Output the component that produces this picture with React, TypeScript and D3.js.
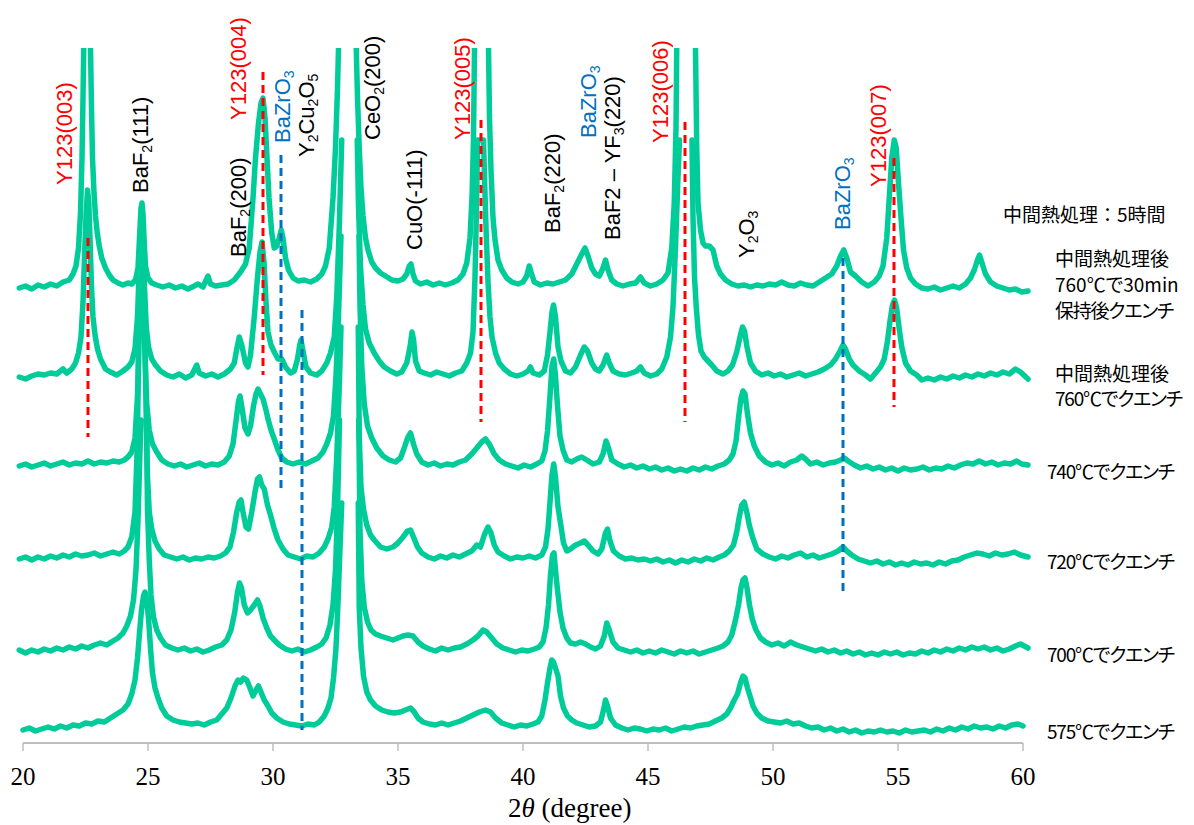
import React from 'react';
import * as d3 from 'd3';

type Pt = [number, number | null];

// XRD patterns, 2θ (deg) vs. intensity (a.u., stacked). null = above the recorded range.
const sampleLabels: string[][] = [
  ['中間熱処理後', '760℃で30min', '保持後クエンチ'],
  ['中間熱処理後', '760℃でクエンチ'],
  ['740℃でクエンチ'],
  ['720℃でクエンチ'],
  ['700℃でクエンチ'],
  ['575℃でクエンチ'],
];
const stackOffsets = [455, 366, 277, 186, 93, 15];

const hold760: Pt[] = [[19.85,0],[20.1,2],[20.35,-1],[20.6,3],[20.85,1],[21.1,4],[21.35,2],[21.6,6],[21.85,8],[22.0,14],[22.12,22],[22.22,40],[22.3,75],[22.36,130],[22.4,190],[22.43,240],[22.44,null],[22.68,null],[22.7,240],[22.74,180],[22.78,130],[22.84,95],[22.9,72],[22.97,55],[23.05,42],[23.15,30],[23.3,20],[23.45,13],[23.6,8],[23.8,5],[24.0,3],[24.2,5],[24.35,4],[24.5,8],[24.6,20],[24.67,55],[24.72,80],[24.76,85],[24.8,74],[24.85,45],[24.9,22],[25.0,10],[25.15,5],[25.35,3],[25.6,1],[25.85,3],[26.1,0],[26.35,2],[26.6,-1],[26.85,2],[27.0,4],[27.2,1],[27.4,12],[27.5,4],[27.7,2],[27.95,3],[28.2,4],[28.45,8],[28.7,16],[28.9,24],[29.05,40],[29.2,90],[29.3,130],[29.42,165],[29.52,185],[29.6,190],[29.68,170],[29.76,130],[29.84,90],[29.95,55],[30.05,40],[30.15,42],[30.25,50],[30.33,58],[30.4,50],[30.5,30],[30.62,18],[30.8,10],[31.0,7],[31.25,8],[31.5,6],[31.75,9],[31.95,14],[32.1,22],[32.25,40],[32.4,90],[32.5,140],[32.58,200],[32.62,240],[32.63,null],[33.32,null],[33.33,240],[33.38,190],[33.45,140],[33.52,100],[33.6,72],[33.7,50],[33.8,38],[33.95,26],[34.1,20],[34.3,15],[34.5,12],[34.75,8],[35.0,7],[35.2,9],[35.35,14],[35.45,22],[35.52,24],[35.6,14],[35.7,7],[35.9,4],[36.15,6],[36.4,3],[36.65,5],[36.9,3],[37.15,5],[37.4,8],[37.6,14],[37.75,25],[37.88,50],[37.96,90],[38.02,150],[38.06,240],[38.07,null],[38.6,null],[38.62,240],[38.66,170],[38.72,118],[38.8,70],[38.88,48],[39.0,28],[39.15,18],[39.35,10],[39.55,6],[39.8,4],[40.0,6],[40.15,12],[40.25,22],[40.32,16],[40.45,6],[40.7,3],[40.95,5],[41.2,4],[41.45,6],[41.7,8],[41.95,14],[42.15,24],[42.35,34],[42.48,40],[42.6,32],[42.75,20],[42.9,14],[43.05,12],[43.2,20],[43.3,28],[43.4,18],[43.55,8],[43.75,4],[44.0,2],[44.25,4],[44.5,5],[44.7,11],[44.85,5],[45.1,2],[45.35,4],[45.6,8],[45.8,15],[45.95,40],[46.05,85],[46.12,160],[46.15,240],[46.16,null],[46.88,null],[46.9,240],[46.95,140],[47.0,85],[47.1,58],[47.2,45],[47.3,42],[47.45,42],[47.6,38],[47.75,22],[47.9,14],[48.1,8],[48.35,4],[48.6,2],[48.85,3],[49.1,1],[49.35,3],[49.6,2],[49.85,4],[50.1,3],[50.35,6],[50.6,3],[50.85,2],[51.1,5],[51.35,3],[51.6,2],[51.85,6],[52.1,10],[52.35,14],[52.55,22],[52.7,32],[52.83,38],[52.95,30],[53.1,16],[53.3,12],[53.55,6],[53.8,2],[54.05,6],[54.25,12],[54.4,22],[54.55,50],[54.65,90],[54.75,130],[54.85,148],[54.93,140],[55.02,105],[55.12,70],[55.22,38],[55.35,20],[55.5,10],[55.7,4],[55.95,0],[56.2,-1],[56.45,1],[56.7,-2],[56.95,0],[57.2,2],[57.45,0],[57.7,4],[57.9,10],[58.05,18],[58.18,28],[58.26,33],[58.35,26],[58.5,14],[58.7,6],[58.95,2],[59.2,0],[59.45,-2],[59.7,-1],[59.95,-4],[60.2,-3]];

const quench760: Pt[] = [[19.85,0],[20.1,-2],[20.35,1],[20.6,3],[20.85,2],[21.1,4],[21.35,3],[21.6,8],[21.75,4],[21.95,8],[22.1,14],[22.22,24],[22.32,40],[22.4,75],[22.46,120],[22.52,160],[22.58,187],[22.63,175],[22.68,140],[22.74,90],[22.8,60],[22.88,42],[22.98,28],[23.1,18],[23.3,8],[23.5,5],[23.75,2],[24.0,6],[24.2,10],[24.35,15],[24.48,28],[24.58,60],[24.65,110],[24.72,155],[24.76,160],[24.8,140],[24.86,90],[24.93,50],[25.02,30],[25.15,18],[25.3,12],[25.5,6],[25.75,2],[26.0,0],[26.25,3],[26.5,-1],[26.75,2],[26.95,12],[27.05,4],[27.3,1],[27.55,3],[27.8,0],[28.05,3],[28.3,8],[28.45,14],[28.55,28],[28.65,40],[28.75,32],[28.9,14],[29.0,10],[29.1,22],[29.25,60],[29.38,100],[29.48,125],[29.56,135],[29.64,115],[29.72,75],[29.8,45],[29.92,32],[30.05,25],[30.2,18],[30.35,18],[30.5,10],[30.7,4],[30.85,6],[30.98,18],[31.07,32],[31.12,37],[31.2,26],[31.32,10],[31.5,4],[31.75,2],[31.95,6],[32.15,14],[32.3,24],[32.45,40],[32.55,80],[32.65,150],[32.75,237],[32.76,null],[33.36,null],[33.37,237],[33.42,170],[33.5,110],[33.6,72],[33.7,48],[33.85,34],[34.05,24],[34.25,16],[34.45,10],[34.7,6],[34.95,3],[35.15,5],[35.35,14],[35.48,30],[35.56,45],[35.62,38],[35.7,16],[35.85,6],[36.05,4],[36.3,2],[36.55,5],[36.8,3],[37.05,1],[37.3,4],[37.55,6],[37.75,14],[37.9,24],[38.0,45],[38.08,100],[38.14,170],[38.18,237],[38.42,237],[38.46,200],[38.52,150],[38.6,95],[38.68,60],[38.76,40],[38.9,24],[39.05,14],[39.25,8],[39.5,3],[39.75,1],[40.0,3],[40.2,6],[40.3,10],[40.4,4],[40.65,2],[40.85,6],[40.98,22],[41.08,45],[41.16,65],[41.22,72],[41.3,60],[41.4,30],[41.52,16],[41.7,6],[41.9,4],[42.1,10],[42.3,22],[42.45,30],[42.58,26],[42.75,14],[42.9,8],[43.05,6],[43.2,12],[43.35,22],[43.45,14],[43.6,6],[43.85,3],[44.1,2],[44.35,4],[44.55,6],[44.7,10],[44.85,4],[45.1,1],[45.35,3],[45.55,8],[45.75,20],[45.9,40],[46.0,70],[46.1,130],[46.2,200],[46.26,237],[46.27,null],[46.75,null],[46.76,237],[46.8,160],[46.86,100],[46.93,70],[47.02,42],[47.12,26],[47.25,20],[47.4,16],[47.55,12],[47.75,6],[48.0,3],[48.2,6],[48.38,12],[48.55,25],[48.68,40],[48.78,50],[48.86,46],[48.96,30],[49.1,14],[49.3,6],[49.55,2],[49.8,4],[50.05,1],[50.3,3],[50.55,0],[50.8,2],[51.05,4],[51.3,1],[51.55,3],[51.8,5],[52.05,8],[52.3,12],[52.5,18],[52.68,26],[52.8,32],[52.9,28],[53.05,18],[53.2,12],[53.45,6],[53.7,2],[53.9,-2],[54.1,4],[54.3,10],[54.45,18],[54.58,36],[54.68,56],[54.78,72],[54.86,77],[54.94,70],[55.05,48],[55.15,30],[55.3,14],[55.5,6],[55.75,2],[55.95,-3],[56.2,-1],[56.45,-3],[56.7,0],[56.95,-2],[57.2,1],[57.45,-1],[57.7,2],[57.95,0],[58.2,3],[58.45,1],[58.7,4],[58.95,2],[59.2,5],[59.45,3],[59.7,8],[59.9,5],[60.2,-2]];

const quench740: Pt[] = [[19.85,0],[20.1,2],[20.35,-1],[20.6,1],[20.85,3],[21.1,0],[21.35,2],[21.6,4],[21.85,1],[22.1,3],[22.35,2],[22.6,5],[22.85,2],[23.1,4],[23.35,3],[23.6,5],[23.85,4],[24.05,6],[24.2,9],[24.35,14],[24.48,28],[24.58,70],[24.65,140],[24.72,200],[24.77,205],[24.82,170],[24.88,110],[24.95,62],[25.05,36],[25.18,22],[25.35,14],[25.55,6],[25.8,2],[26.05,0],[26.3,2],[26.55,-1],[26.8,1],[27.05,3],[27.3,0],[27.55,2],[27.8,1],[28.05,4],[28.25,10],[28.4,22],[28.52,45],[28.62,65],[28.68,70],[28.76,58],[28.88,38],[29.0,32],[29.1,40],[29.22,60],[29.32,72],[29.4,77],[29.5,72],[29.6,67],[29.7,58],[29.8,47],[29.92,36],[30.05,27],[30.2,16],[30.35,8],[30.55,4],[30.8,2],[31.05,4],[31.3,2],[31.55,5],[31.8,8],[32.0,14],[32.15,22],[32.3,33],[32.42,50],[32.52,90],[32.62,150],[32.72,230],[32.73,null],[33.43,null],[33.44,230],[33.48,160],[33.55,100],[33.65,62],[33.78,40],[33.95,28],[34.15,18],[34.4,10],[34.65,6],[34.9,4],[35.1,8],[35.25,18],[35.38,28],[35.5,33],[35.62,22],[35.75,12],[35.95,4],[36.2,1],[36.45,3],[36.7,0],[36.95,2],[37.2,1],[37.45,4],[37.7,6],[37.95,12],[38.15,18],[38.35,24],[38.5,27],[38.65,22],[38.85,12],[39.05,6],[39.3,2],[39.55,0],[39.8,-2],[40.05,1],[40.3,-1],[40.55,2],[40.75,5],[40.88,15],[40.98,35],[41.08,70],[41.16,100],[41.23,107],[41.3,90],[41.38,60],[41.48,30],[41.6,16],[41.75,6],[41.95,4],[42.15,7],[42.35,9],[42.55,6],[42.8,2],[43.05,4],[43.2,12],[43.32,25],[43.42,18],[43.55,6],[43.8,2],[44.05,-1],[44.3,1],[44.55,-2],[44.8,0],[45.05,-3],[45.3,-1],[45.55,-4],[45.8,-2],[46.05,-5],[46.3,-3],[46.55,-5],[46.8,-2],[47.05,-4],[47.3,-1],[47.55,-3],[47.8,0],[48.05,2],[48.25,6],[48.4,12],[48.52,25],[48.62,48],[48.72,68],[48.8,75],[48.88,72],[48.98,52],[49.1,33],[49.25,20],[49.45,10],[49.7,4],[49.95,1],[50.2,3],[50.45,0],[50.7,4],[50.95,6],[51.15,10],[51.3,7],[51.5,2],[51.75,4],[52.0,1],[52.25,3],[52.5,4],[52.7,6],[52.85,8],[53.0,5],[53.25,1],[53.5,-2],[53.75,0],[54.0,-3],[54.25,-1],[54.5,-4],[54.75,-2],[55.0,-5],[55.25,-2],[55.5,-4],[55.75,-3],[56.0,-1],[56.25,-4],[56.5,-2],[56.75,-3],[57.0,0],[57.25,-2],[57.5,1],[57.75,3],[58.0,2],[58.25,5],[58.5,2],[58.75,4],[59.0,1],[59.25,3],[59.5,2],[59.75,5],[59.95,2],[60.2,1]];

const quench720: Pt[] = [[19.85,-2],[20.1,0],[20.35,-3],[20.6,0],[20.85,-2],[21.1,1],[21.35,-1],[21.6,2],[21.85,0],[22.1,3],[22.35,1],[22.6,2],[22.85,4],[23.1,1],[23.35,3],[23.6,5],[23.85,3],[24.05,6],[24.2,10],[24.35,20],[24.48,45],[24.57,110],[24.64,230],[24.65,null],[24.86,null],[24.87,230],[24.92,150],[24.98,80],[25.05,45],[25.15,28],[25.28,16],[25.45,8],[25.65,2],[25.9,0],[26.15,-2],[26.4,0],[26.65,-3],[26.9,-1],[27.15,-2],[27.4,0],[27.65,-1],[27.9,1],[28.1,4],[28.28,10],[28.42,25],[28.55,45],[28.65,55],[28.72,57],[28.8,45],[28.92,30],[29.02,28],[29.15,45],[29.28,65],[29.38,78],[29.46,80],[29.55,72],[29.65,68],[29.78,52],[29.9,42],[30.05,28],[30.2,17],[30.4,8],[30.6,2],[30.85,0],[31.1,-2],[31.35,1],[31.6,0],[31.85,4],[32.05,10],[32.2,18],[32.35,30],[32.45,50],[32.55,100],[32.65,170],[32.72,230],[32.73,null],[33.4,null],[33.41,230],[33.45,120],[33.52,70],[33.62,48],[33.75,32],[33.9,22],[34.05,17],[34.3,10],[34.55,8],[34.8,10],[35.0,14],[35.2,20],[35.38,26],[35.5,27],[35.62,20],[35.78,10],[35.95,4],[36.2,0],[36.45,-2],[36.7,1],[36.95,-1],[37.2,2],[37.45,0],[37.7,3],[37.95,6],[38.15,12],[38.3,10],[38.45,22],[38.6,30],[38.72,24],[38.85,12],[39.0,5],[39.25,1],[39.5,-2],[39.75,0],[40.0,-1],[40.25,1],[40.5,-1],[40.75,2],[40.9,10],[41.0,28],[41.08,55],[41.16,82],[41.23,93],[41.3,80],[41.4,50],[41.5,34],[41.62,14],[41.75,6],[41.9,8],[42.1,12],[42.3,14],[42.45,16],[42.6,12],[42.8,6],[43.0,3],[43.15,8],[43.3,24],[43.38,28],[43.48,16],[43.62,6],[43.85,1],[44.1,-2],[44.35,-1],[44.6,-3],[44.85,-2],[45.1,-4],[45.35,-2],[45.6,-5],[45.85,-3],[46.1,-6],[46.35,-3],[46.6,-5],[46.85,-2],[47.1,-4],[47.35,-1],[47.6,-3],[47.85,0],[48.05,2],[48.25,6],[48.42,12],[48.55,25],[48.65,40],[48.75,52],[48.85,55],[48.95,45],[49.05,32],[49.18,20],[49.35,8],[49.6,3],[49.85,0],[50.1,-2],[50.35,1],[50.6,-1],[50.85,2],[51.1,4],[51.35,0],[51.6,2],[51.85,-1],[52.1,1],[52.35,3],[52.6,6],[52.8,10],[52.95,6],[53.15,2],[53.4,-2],[53.65,-4],[53.9,-6],[54.15,-4],[54.4,-7],[54.65,-5],[54.9,-8],[55.15,-6],[55.4,-8],[55.65,-5],[55.9,-7],[56.15,-6],[56.4,-8],[56.65,-5],[56.9,-7],[57.15,-4],[57.4,-3],[57.65,0],[57.9,2],[58.15,4],[58.4,3],[58.65,1],[58.9,4],[59.15,2],[59.4,3],[59.65,5],[59.9,2],[60.2,0]];

const quench700: Pt[] = [[19.85,0],[20.1,-3],[20.35,0],[20.6,-2],[20.85,1],[21.1,-1],[21.35,2],[21.6,0],[21.85,3],[22.1,1],[22.35,4],[22.6,2],[22.85,5],[23.1,7],[23.35,5],[23.6,9],[23.8,12],[24.0,17],[24.15,24],[24.3,34],[24.42,50],[24.52,80],[24.6,130],[24.68,200],[24.72,230],[24.73,null],[24.93,null],[24.94,230],[24.98,140],[25.05,90],[25.12,55],[25.22,33],[25.35,20],[25.5,12],[25.7,5],[25.95,2],[26.2,0],[26.45,2],[26.7,-1],[26.95,1],[27.2,-2],[27.45,0],[27.7,3],[27.95,5],[28.15,10],[28.32,20],[28.47,38],[28.58,58],[28.66,67],[28.74,62],[28.85,45],[28.98,37],[29.1,40],[29.25,45],[29.38,50],[29.48,44],[29.6,32],[29.75,22],[29.9,14],[30.05,10],[30.25,5],[30.5,1],[30.75,-1],[31.0,1],[31.25,-2],[31.5,0],[31.75,3],[31.95,6],[32.12,12],[32.28,25],[32.4,45],[32.5,80],[32.58,140],[32.66,230],[32.67,null],[33.42,null],[33.43,230],[33.48,120],[33.55,70],[33.65,43],[33.78,28],[33.92,20],[34.1,16],[34.3,14],[34.55,12],[34.8,10],[35.0,12],[35.2,14],[35.4,15],[35.6,14],[35.8,8],[36.0,4],[36.25,1],[36.5,-1],[36.75,2],[37.0,0],[37.25,2],[37.5,3],[37.75,6],[38.0,10],[38.2,14],[38.4,20],[38.55,18],[38.75,12],[38.95,6],[39.2,2],[39.45,0],[39.7,-2],[39.95,0],[40.2,-1],[40.45,1],[40.65,3],[40.8,8],[40.92,22],[41.02,45],[41.1,75],[41.18,95],[41.24,97],[41.3,80],[41.38,60],[41.48,38],[41.6,22],[41.75,12],[41.9,7],[42.1,6],[42.3,8],[42.5,6],[42.7,3],[42.9,1],[43.1,4],[43.25,14],[43.35,27],[43.45,20],[43.6,8],[43.8,2],[44.05,0],[44.3,-2],[44.55,0],[44.8,-3],[45.05,-1],[45.3,-3],[45.55,0],[45.8,-2],[46.05,-4],[46.3,-1],[46.55,-3],[46.8,-1],[47.05,-4],[47.3,-2],[47.55,0],[47.8,2],[48.0,4],[48.2,8],[48.35,15],[48.5,30],[48.62,45],[48.72,62],[48.8,70],[48.88,72],[48.96,62],[49.06,45],[49.18,30],[49.32,20],[49.5,12],[49.7,8],[49.95,5],[50.2,7],[50.45,4],[50.7,8],[50.95,5],[51.2,3],[51.45,1],[51.7,-1],[51.95,1],[52.2,-2],[52.45,0],[52.7,-3],[52.95,-1],[53.2,-4],[53.45,-2],[53.7,-5],[53.95,-3],[54.2,-5],[54.45,-2],[54.7,-4],[54.95,-2],[55.2,-5],[55.45,-3],[55.7,-4],[55.95,-1],[56.2,-3],[56.45,0],[56.7,-2],[56.95,1],[57.2,-1],[57.45,2],[57.7,0],[57.95,3],[58.2,1],[58.45,3],[58.7,0],[58.95,2],[59.2,-1],[59.45,1],[59.7,4],[59.9,6],[60.2,2]];

const quench575: Pt[] = [[20.0,-2],[20.25,0],[20.5,-3],[20.75,-1],[21.0,1],[21.25,-1],[21.5,2],[21.75,0],[22.0,3],[22.25,2],[22.5,5],[22.75,4],[23.0,7],[23.25,6],[23.5,10],[23.75,14],[24.0,18],[24.2,24],[24.35,34],[24.48,48],[24.58,70],[24.66,95],[24.74,118],[24.82,132],[24.88,136],[24.94,130],[25.02,110],[25.1,80],[25.18,55],[25.28,40],[25.4,30],[25.55,20],[25.75,12],[26.0,8],[26.25,6],[26.5,5],[26.75,4],[27.0,5],[27.25,3],[27.5,6],[27.75,8],[27.95,14],[28.15,20],[28.32,30],[28.48,42],[28.6,48],[28.7,46],[28.82,50],[28.95,48],[29.08,40],[29.2,32],[29.32,38],[29.42,42],[29.52,36],[29.65,28],[29.8,22],[29.95,15],[30.15,10],[30.4,6],[30.65,4],[30.9,3],[31.15,2],[31.4,4],[31.65,3],[31.85,6],[32.05,12],[32.2,20],[32.32,30],[32.42,50],[32.52,80],[32.6,125],[32.68,180],[32.75,225],[32.76,null],[33.4,null],[33.41,225],[33.45,120],[33.52,80],[33.62,52],[33.75,36],[33.9,28],[34.1,22],[34.35,18],[34.6,16],[34.85,15],[35.1,16],[35.3,18],[35.5,20],[35.65,16],[35.8,10],[36.0,6],[36.25,4],[36.5,3],[36.75,5],[37.0,3],[37.25,5],[37.5,7],[37.75,10],[38.0,13],[38.25,16],[38.5,18],[38.7,16],[38.9,10],[39.15,5],[39.4,3],[39.65,1],[39.9,3],[40.15,2],[40.4,4],[40.6,6],[40.75,12],[40.88,28],[40.98,45],[41.08,60],[41.15,68],[41.22,66],[41.3,60],[41.4,52],[41.5,32],[41.62,20],[41.78,12],[41.95,8],[42.15,5],[42.4,3],[42.65,1],[42.9,2],[43.1,6],[43.22,18],[43.3,28],[43.38,22],[43.5,10],[43.7,3],[43.95,0],[44.2,-2],[44.45,0],[44.7,-1],[44.95,-3],[45.2,-1],[45.45,-2],[45.7,0],[45.95,-3],[46.2,-1],[46.45,1],[46.7,0],[46.95,2],[47.2,3],[47.45,4],[47.7,7],[47.95,10],[48.15,14],[48.3,20],[48.45,28],[48.58,34],[48.7,45],[48.8,52],[48.88,50],[48.98,40],[49.08,32],[49.2,22],[49.35,15],[49.55,10],[49.8,7],[50.05,6],[50.3,5],[50.55,7],[50.8,4],[51.05,5],[51.3,2],[51.55,0],[51.8,1],[52.05,-2],[52.3,0],[52.55,-3],[52.8,-1],[53.05,-4],[53.3,-2],[53.55,-5],[53.8,-3],[54.05,-4],[54.3,-2],[54.55,-4],[54.8,-3],[55.05,-5],[55.3,-2],[55.55,-4],[55.8,-3],[56.05,-2],[56.3,-4],[56.55,-1],[56.8,-3],[57.05,0],[57.3,-2],[57.55,1],[57.8,-1],[58.05,2],[58.3,0],[58.55,1],[58.8,-1],[59.05,2],[59.3,0],[59.55,3],[59.8,4],[60.0,2]];

const patterns: Pt[][] = [hold760, quench760, quench740, quench720, quench700, quench575];

const xTickValues = [20, 25, 30, 35, 40, 45, 50, 55, 60];

// Reference peak positions (2θ) with the intensity span of each dashed marker
const markerPos = [22.6, 29.6, 30.32, 31.16, 38.32, 46.48, 52.8, 54.84];
const markerTop = [505, 671, 588, 433, 623, 621, 485, 585];
const markerBottom = [306, 368, 255, 13, 321, 321, 148, 336];
const markerPhase = ['Y123', 'Y123', 'BaZrO3', 'Y2Cu2O5', 'Y123', 'Y123', 'BaZrO3', 'Y123'];

const RED = '#ff0000';
const BLUE = '#0070c0';
const INK = '#000000';
const TRACE = '#00cc99';

// Phase labels ("_x" marks a subscript character)
const peakLabels: { text: string; at: number; bottom: number; color: string }[] = [
  { text: 'Y123(003)', at: 21.64, bottom: 185, color: RED },
  { text: 'BaF_2(111)', at: 24.68, bottom: 193, color: INK },
  { text: 'Y123(004)', at: 28.6, bottom: 120, color: RED },
  { text: 'BaF_2(200)', at: 28.6, bottom: 257, color: INK },
  { text: 'BaZrO_3', at: 30.36, bottom: 143, color: BLUE },
  { text: 'Y_2Cu_2O_5', at: 31.32, bottom: 157, color: INK },
  { text: 'CeO_2(200)', at: 33.96, bottom: 140, color: INK },
  { text: 'CuO(-111)', at: 35.64, bottom: 250, color: INK },
  { text: 'Y123(005)', at: 37.56, bottom: 140, color: RED },
  { text: 'BaF_2(220)', at: 41.16, bottom: 233, color: INK },
  { text: 'BaZrO_3', at: 42.6, bottom: 138, color: BLUE },
  { text: 'BaF2 – YF_3(220)', at: 43.56, bottom: 240, color: INK },
  { text: 'Y123(006)', at: 45.48, bottom: 143, color: RED },
  { text: 'Y_2O_3', at: 48.92, bottom: 258, color: INK },
  { text: 'BaZrO_3', at: 52.76, bottom: 230, color: BLUE },
  { text: 'Y123(007)', at: 54.2, bottom: 187, color: RED },
];

function splitSub(s: string): { t: string; sub: boolean }[] {
  const out: { t: string; sub: boolean }[] = [];
  let buf = '';
  for (let i = 0; i < s.length; i++) {
    if (s[i] === '_' && i + 1 < s.length) {
      if (buf) out.push({ t: buf, sub: false });
      buf = '';
      out.push({ t: s[i + 1], sub: true });
      i++;
    } else buf += s[i];
  }
  if (buf) out.push({ t: buf, sub: false });
  return out;
}

const labelLayout = [
  { x: 1055, ys: [257, 283, 309] },
  { x: 1055, ys: [372, 397] },
  { x: 1047, ys: [470] },
  { x: 1047, ys: [560] },
  { x: 1047, ys: [653] },
  { x: 1047, ys: [730] },
];

export default function App() {
  const W = 1194;
  const H = 825;
  const x = d3.scaleLinear().domain([20, 60]).range([23, 1023]);
  const y = d3.scaleLinear().domain([0, 695]).range([743, 48]);
  const axisY = y(0);

  const line = d3
    .line<Pt>()
    .defined((d) => d[1] !== null)
    .x((d) => x(d[0]))
    .y((d) => y(d[1] as number));

  const sans = '"Liberation Sans", Arial, sans-serif';
  const jp = '"Noto Sans CJK JP", "Noto Sans", sans-serif';
  const serif = '"Liberation Serif", "Times New Roman", serif';

  return (
    <svg
      width={W}
      height={H}
      viewBox={`0 0 ${W} ${H}`}
      style={{ position: 'absolute', left: 0, top: 0, background: '#ffffff' }}
    >
      <defs>
        <clipPath id="plotClip">
          <rect x={0} y={y(695)} width={W} height={axisY - y(695) + 10} />
        </clipPath>
      </defs>

      {/* stacked diffraction patterns */}
      <g clipPath="url(#plotClip)">
        {patterns.map((p, i) => (
          <path
            key={i}
            d={line(p.map((d) => [d[0], d[1] === null ? null : (d[1] as number) + stackOffsets[i]] as Pt)) || ''}
            fill="none"
            stroke={TRACE}
            strokeWidth={5.5}
            strokeLinejoin="round"
            strokeLinecap="round"
          />
        ))}
      </g>

      {/* dashed reference-peak markers */}
      {markerPos.map((p, i) => (
        <line
          key={i}
          x1={x(p)}
          x2={x(p)}
          y1={y(markerTop[i])}
          y2={y(markerBottom[i])}
          stroke={markerPhase[i] === 'Y123' ? RED : BLUE}
          strokeWidth={3}
          strokeDasharray="8 5"
        />
      ))}

      {/* x axis */}
      <line x1={x(20)} x2={x(60)} y1={axisY} y2={axisY} stroke="#bfbfbf" strokeWidth={2} />
      {xTickValues.map((t) => (
        <g key={t}>
          <line x1={x(t)} x2={x(t)} y1={axisY} y2={axisY + 8} stroke="#bfbfbf" strokeWidth={1.5} />
          <text
            x={x(t)}
            y={axisY + 42}
            textAnchor="middle"
            fontFamily={serif}
            fontSize={25}
            fill="#000"
          >
            {t}
          </text>
        </g>
      ))}
      <text x={508} y={817} fontFamily={serif} fontSize={27} fill="#000">
        2<tspan fontStyle="italic">θ</tspan> (degree)
      </text>

      {/* phase labels */}
      {peakLabels.map((l, i) => {
        const segs = splitSub(l.text);
        return (
          <text
            key={i}
            transform={`translate(${x(l.at) + 8},${l.bottom}) rotate(-90)`}
            fontFamily={sans}
            fontSize={22}
            fill={l.color}
          >
            {segs.map((s, j) =>
              s.sub ? (
                <tspan key={j} fontSize={14} dy={4}>
                  {s.t}
                </tspan>
              ) : (
                <tspan key={j} dy={j > 0 && segs[j - 1].sub ? -4 : 0}>
                  {s.t}
                </tspan>
              )
            )}
          </text>
        );
      })}

      {/* sample conditions */}
      <text
        x={1003}
        y={213}
        dominantBaseline="central"
        fontFamily={jp}
        fontSize={19}
        fill="#000"
      >
        中間熱処理：5時間
      </text>
      {sampleLabels.map((lines, i) =>
        lines.map((s, j) => (
          <text
            key={`${i}-${j}`}
            x={labelLayout[i].x}
            y={labelLayout[i].ys[j]}
            dominantBaseline="central"
            fontFamily={jp}
            fontSize={19}
            letterSpacing={/クエンチ/.test(s) ? -1.2 : 0}
            fill="#000"
            style={{ fontFeatureSettings: '"palt"' }}
          >
            {s}
          </text>
        ))
      )}
    </svg>
  );
}
